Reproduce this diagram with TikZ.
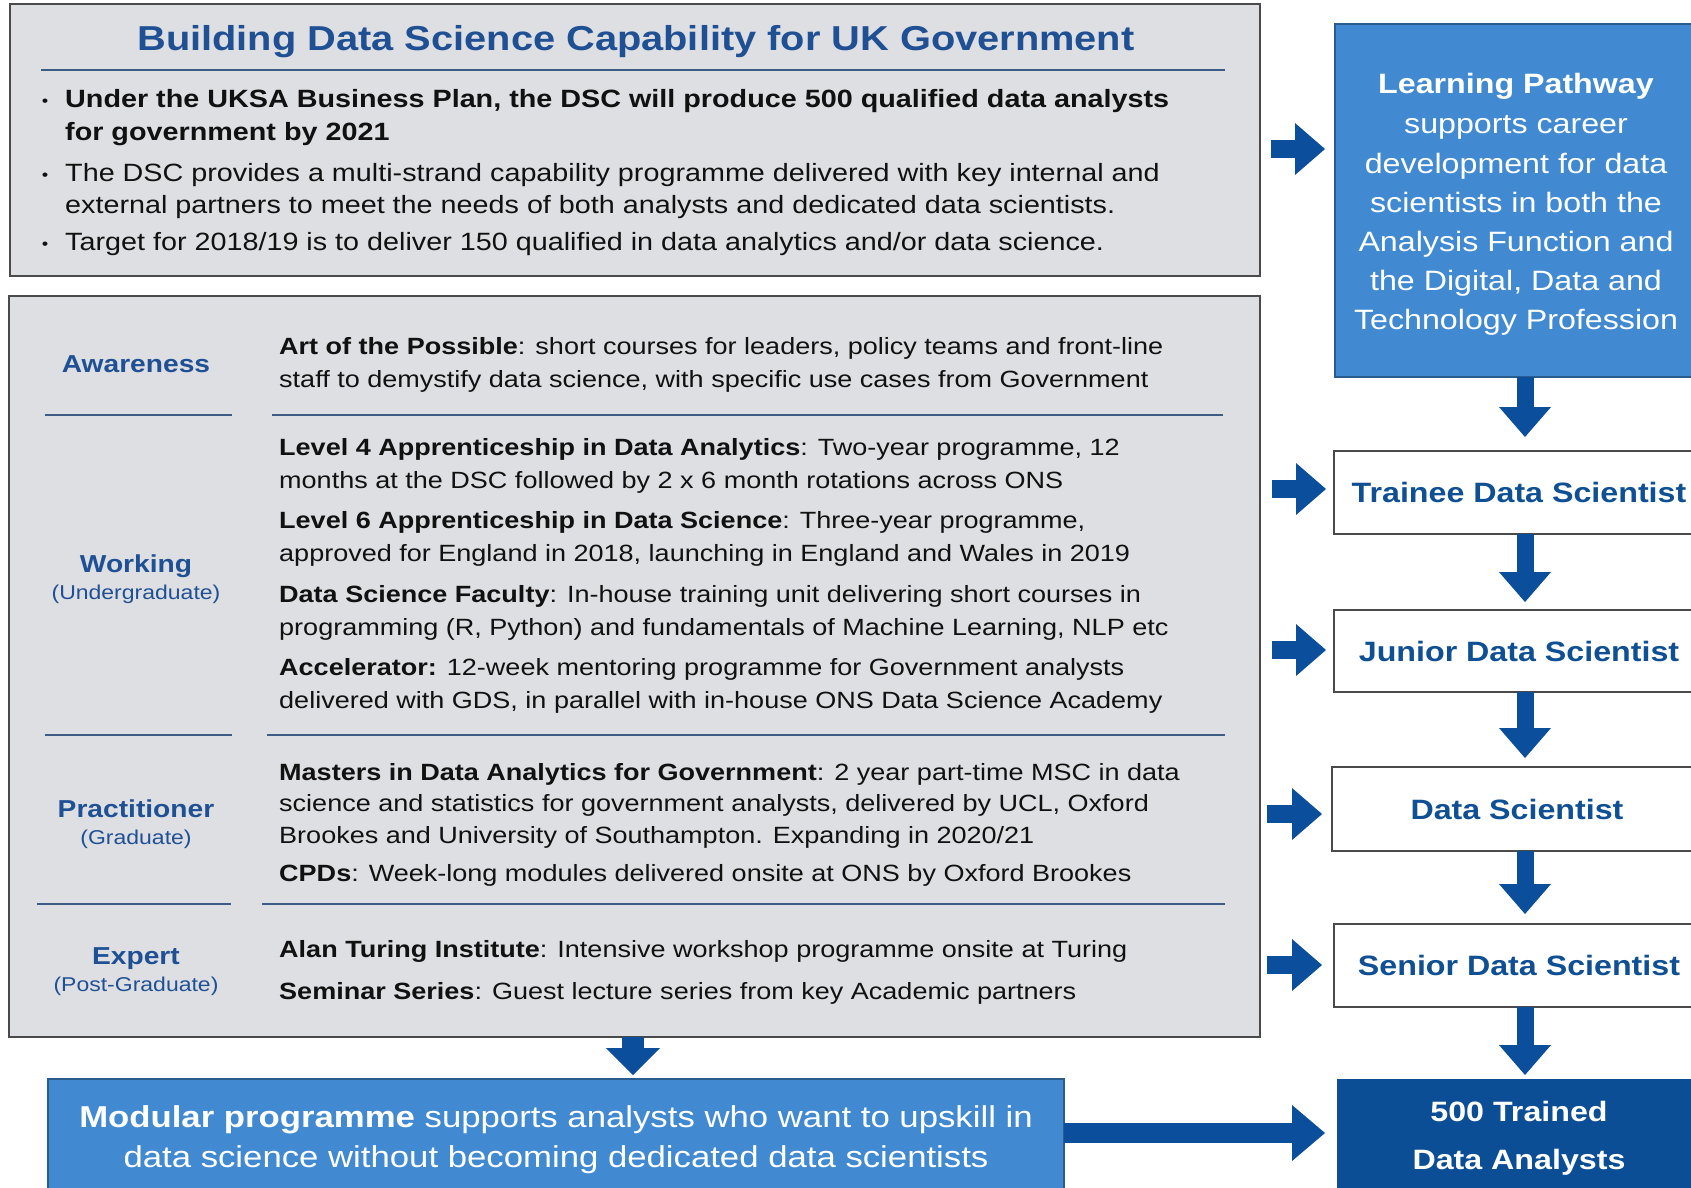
\documentclass[tikz,border=0pt]{standalone}
\usepackage{fontspec}
\setmainfont{Liberation Sans}[FakeStretch=1.15]
\usetikzlibrary{arrows.meta}
\definecolor{grayfill}{HTML}{DEDFE2}
\definecolor{grayedge}{HTML}{4A4A4A}
\definecolor{titleblue}{HTML}{1F5094}
\definecolor{sepblue}{HTML}{3D5C85}
\definecolor{midblue}{HTML}{418AD1}
\definecolor{midedge}{HTML}{2A5C8E}
\definecolor{arrowblue}{HTML}{0B4F9C}
\definecolor{darkblue}{HTML}{0B4E96}
\definecolor{rankblue}{HTML}{0F4F93}
\definecolor{bodyblack}{HTML}{111111}
\newcommand\ftitle{\fontsize{34.6}{40}\selectfont\bfseries}
\newcommand\ftop{\fontsize{25}{30}\selectfont}
\newcommand\fbody{\fontsize{23.5}{28}\selectfont}
\newcommand\flab{\fontsize{24.5}{29}\selectfont\bfseries}
\newcommand\fsub{\fontsize{20}{24}\selectfont}
\newcommand\fright{\fontsize{28}{33}\selectfont}
\newcommand\fmod{\fontsize{30.2}{36}\selectfont}
\begin{document}
\begin{tikzpicture}[x=1pt,y=-1pt,
  graybox/.style={draw=grayedge, line width=1.8pt, fill=grayfill, anchor=north west, inner sep=0, outer sep=0},
  rankbox/.style={draw=grayedge, line width=1.6pt, fill=white, anchor=north west, inner sep=0, outer sep=0, minimum width=370pt, font=\fright\bfseries, text=rankblue},
  bluebox/.style={draw=midedge, line width=1.2pt, fill=midblue, anchor=north west, inner sep=0, outer sep=0},
  sepline/.style={draw=sepblue, line width=2.4pt},
  rarr/.style={draw=arrowblue, line width=18pt, -{Triangle[width=52pt,length=30pt,line width=0pt]}},
  darr/.style={draw=arrowblue, line width=17pt, -{Triangle[width=52pt,length=30pt,line width=0pt]}},
  bl/.style={anchor=base west, inner sep=0, font=\fbody, text=bodyblack},
  tl/.style={anchor=base west, inner sep=0, font=\ftop, text=bodyblack},
  bul/.style={anchor=base, inner sep=0, font=\fontsize{16}{18}\selectfont, text=bodyblack},
  lab/.style={anchor=base, inner sep=0, font=\flab, text=titleblue},
  sublab/.style={anchor=base, inner sep=0, font=\fsub, text=titleblue},
  lpt/.style={anchor=base, inner sep=0, font=\fright, text=white},
  modt/.style={anchor=base, inner sep=0, font=\fmod, text=white}]
\useasboundingbox (0,0) rectangle (1691,1187);
\clip (0,0) rectangle (1691,1187);

% ---------- top box ----------
\node[graybox, minimum width=1250pt, minimum height=272pt] (topbox) at (10,4) {};
\node[anchor=base, inner sep=0, font=\ftitle, text=titleblue] (title) at (636,50) {Building Data Science Capability for UK Government};
\draw[sepline] (41,70) -- (1225,70);
\node[bul] (b1) at (45,106) {•};
\node[bul] (b2) at (45,180) {•};
\node[bul] (b3) at (45,249) {•};
\node[tl] (t1) at (65,107) {\textbf{Under the UKSA Business Plan, the DSC will produce 500 qualified data analysts}};
\node[tl] (t2) at (65,140) {\textbf{for government by 2021}};
\node[tl] (t3) at (65,181) {The DSC provides a multi-strand capability programme delivered with key internal and};
\node[tl] (t4) at (65,213) {external partners to meet the needs of both analysts and dedicated data scientists.};
\node[tl] (t5) at (65,250) {Target for 2018/19 is to deliver 150 qualified in data analytics and/or data science.};

% ---------- middle box ----------
\node[graybox, minimum width=1251pt, minimum height=741pt] (midbox) at (9,296) {};
\draw[sepline] (45,415) -- (232,415);
\draw[sepline] (272,415) -- (1223,415);
\draw[sepline] (45,735) -- (232,735);
\draw[sepline] (267,735) -- (1225,735);
\draw[sepline] (37,904) -- (231,904);
\draw[sepline] (262,904) -- (1225,904);

\node[lab] (aware) at (136,372) {Awareness};
\node[lab] (work) at (136,572) {Working};
\node[sublab] (worksub) at (136,599) {(Undergraduate)};
\node[lab] (prac) at (136,817) {Practitioner};
\node[sublab] (pracsub) at (136,844) {(Graduate)};
\node[lab] (expert) at (136,964) {Expert};
\node[sublab] (expertsub) at (136,991) {(Post-Graduate)};

\node[bl] (l1) at (279,354) {\textbf{Art of the Possible}: short courses for leaders, policy teams and front-line};
\node[bl] (l2) at (279,387) {staff to demystify data science, with specific use cases from Government};
\node[bl] (l3) at (279,455) {\textbf{Level 4 Apprenticeship in Data Analytics}: Two-year programme, 12};
\node[bl] (l4) at (279,488) {months at the DSC followed by 2 x 6 month rotations across ONS};
\node[bl] (l5) at (279,528) {\textbf{Level 6 Apprenticeship in Data Science}: Three-year programme,};
\node[bl] (l6) at (279,561) {approved for England in 2018, launching in England and Wales in 2019};
\node[bl] (l7) at (279,602) {\textbf{Data Science Faculty}: In-house training unit delivering short courses in};
\node[bl] (l8) at (279,635) {programming (R, Python) and fundamentals of Machine Learning, NLP etc};
\node[bl] (l9) at (279,675) {\textbf{Accelerator:} 12-week mentoring programme for Government analysts};
\node[bl] (l10) at (279,708) {delivered with GDS, in parallel with in-house ONS Data Science Academy};
\node[bl] (l11) at (279,780) {\textbf{Masters in Data Analytics for Government}: 2 year part-time MSC in data};
\node[bl] (l12) at (279,811) {science and statistics for government analysts, delivered by UCL, Oxford};
\node[bl] (l13) at (279,843) {Brookes and University of Southampton. Expanding in 2020/21};
\node[bl] (l14) at (279,881) {\textbf{CPDs}: Week-long modules delivered onsite at ONS by Oxford Brookes};
\node[bl] (l15) at (279,957) {\textbf{Alan Turing Institute}: Intensive workshop programme onsite at Turing};
\node[bl] (l16) at (279,999) {\textbf{Seminar Series}: Guest lecture series from key Academic partners};

% ---------- modular box ----------
\node[bluebox, minimum width=1016pt, minimum height=140pt] (modular) at (48,1079) {};
\node[modt] (m1) at (556,1127) {\textbf{Modular programme} supports analysts who want to upskill in};
\node[modt] (m2) at (556,1167) {data science without becoming dedicated data scientists};

% ---------- right column ----------
\node[bluebox, minimum width=366pt, minimum height=353pt] (lp) at (1335,24) {};
\node[lpt] (lp1) at (1516,93) {\textbf{Learning Pathway}};
\node[lpt] (lp2) at (1516,133) {supports career};
\node[lpt] (lp3) at (1516,173) {development for data};
\node[lpt] (lp4) at (1516,212) {scientists in both the};
\node[lpt] (lp5) at (1516,251) {Analysis Function and};
\node[lpt] (lp6) at (1516,290) {the Digital, Data and};
\node[lpt] (lp7) at (1516,329) {Technology Profession};

\node[rankbox, minimum height=83pt] (trainee) at (1334,451) {Trainee Data Scientist};
\node[rankbox, minimum height=82pt] (junior) at (1334,610) {Junior Data Scientist};
\node[rankbox, minimum height=84pt] (ds) at (1332,767) {Data Scientist};
\node[rankbox, minimum height=83pt] (senior) at (1334,924) {Senior Data Scientist};
\node[draw=darkblue, fill=darkblue, anchor=north west, inner sep=0, outer sep=0, minimum width=370pt, minimum height=140pt] (final) at (1337,1079) {};
\node[lpt, font=\fright\bfseries] (f1) at (1519,1121) {500 Trained};
\node[lpt, font=\fright\bfseries] (f2) at (1519,1169) {Data Analysts};

% ---------- arrows ----------
\coordinate (colx) at (1525,0);
\draw[darr, shorten >=14pt] (lp.south -| colx) -- (trainee.north -| colx);
\draw[darr, shorten >=8pt] (trainee.south -| colx) -- (junior.north -| colx);
\draw[darr, shorten >=9pt] (junior.south -| colx) -- (ds.north -| colx);
\draw[darr, shorten >=10pt] (ds.south -| colx) -- (senior.north -| colx);
\draw[darr, shorten >=4pt] (senior.south -| colx) -- (final.north -| colx);

\coordinate (r1) at (1271,149);
\coordinate (r2) at (1272,489);
\coordinate (r3) at (1272,650);
\coordinate (r4) at (1267,814);
\coordinate (r5) at (1267,965);
\draw[rarr, shorten >=10pt] (r1) -- (r1 -| lp.west);
\draw[rarr, shorten >=8pt] (r2) -- (r2 -| trainee.west);
\draw[rarr, shorten >=8pt] (r3) -- (r3 -| junior.west);
\draw[rarr, shorten >=10pt] (r4) -- (r4 -| ds.west);
\draw[rarr, shorten >=12pt] (r5) -- (r5 -| senior.west);

\coordinate (lgs) at (1064,1133);
\draw[draw=arrowblue, line width=20pt, -{Triangle[width=56pt,length=33pt,line width=0pt]}, shorten >=12pt] (lgs) -- (lgs -| final.west);

\coordinate (mx) at (633,0);
\draw[draw=arrowblue, line width=22pt, -{Triangle[width=54pt,length=27pt,line width=0pt]}, shorten >=4pt] (midbox.south -| mx) -- (modular.north -| mx);
\end{tikzpicture}
\end{document}
